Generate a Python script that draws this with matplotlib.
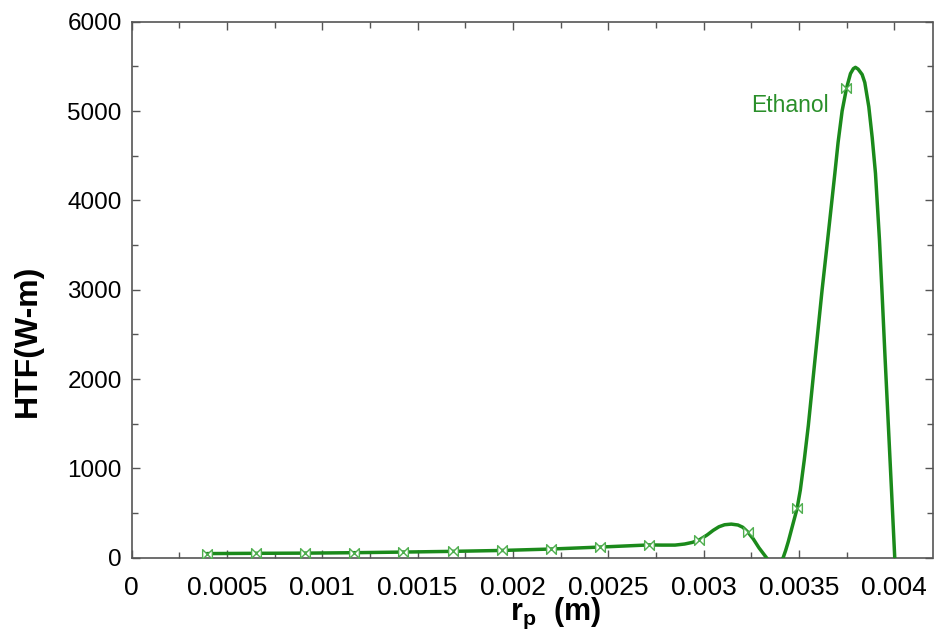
import matplotlib
matplotlib.use("Agg")
import matplotlib.pyplot as plt
from matplotlib.path import Path
from matplotlib.ticker import MultipleLocator, FuncFormatter

plt.rcParams['font.family'] = ['Liberation Sans', 'DejaVu Sans']
plt.rcParams['mathtext.fontset'] = 'custom'
plt.rcParams['mathtext.rm'] = 'Liberation Sans'
plt.rcParams['mathtext.bf'] = 'Liberation Sans:bold'

# Curve (r_p in m, HTF in W-m)
curve_x = [0.000395, 0.000653, 0.000910, 0.001169, 0.001426, 0.001685, 0.001942,
           0.002201, 0.002458, 0.002715, 0.00278, 0.00285, 0.0029, 0.00294, 0.002974,
           0.003018, 0.00305, 0.00308, 0.00311, 0.003145, 0.00318, 0.003205, 0.003233,
           0.00326, 0.00329, 0.003329, 0.00337, 0.0034, 0.003417, 0.00343, 0.003444,
           0.003465, 0.00349, 0.003507, 0.003528, 0.003549, 0.003583, 0.003621,
           0.00365, 0.003688, 0.003705, 0.003726, 0.003749, 0.00377, 0.003785,
           0.003796, 0.00381, 0.003831, 0.003845, 0.003866, 0.003884, 0.003901,
           0.003922, 0.003936, 0.003951, 0.003968, 0.003985, 0.004002, 0.00401]
curve_y = [45, 48, 50, 55, 62, 70, 80,
           96, 118, 142, 140, 140, 152, 170, 194,
           253, 305, 345, 368, 375, 365, 340, 283,
           210, 110, 0, -120, -60, 0, 80, 180,
           350, 550, 757, 1100, 1480, 2200, 2996,
           3555, 4303, 4650, 5000, 5255, 5420, 5475,
           5490, 5470, 5410, 5320, 5049, 4700, 4303,
           3555, 2940, 2250, 1504, 757, 0, -150]

# Symbol positions on the curve
marker_x = [0.000395, 0.000653, 0.000910, 0.001169, 0.001426, 0.001685, 0.001942,
            0.002201, 0.002458, 0.002715, 0.002974, 0.003233, 0.00349, 0.003749]
marker_y = [45, 48, 50, 55, 62, 70, 80, 96, 118, 142, 194, 283, 550, 5255]

series_label = "Ethanol"
x_label_txt = r"$\mathbf{r_p}$  (m)"
y_label_txt = "HTF(W-m)"

line_color = "#1b8a1b"
marker_color = "#4fae4f"
spine_color = "#555555"

bowtie = Path([(-1, -1), (-1, 1), (1, -1), (1, 1), (-1, -1)],
              [Path.MOVETO, Path.LINETO, Path.LINETO, Path.LINETO, Path.CLOSEPOLY])

W, H = 937, 637
fig = plt.figure(figsize=(W / 100, H / 100), dpi=100)
left, right, top, bottom = 131.5, 932.5, 21.8, 557.6
ax = fig.add_axes([left / W, (H - bottom) / H, (right - left) / W, (bottom - top) / H])

ax.plot(curve_x, curve_y, color=line_color, lw=2.5, zorder=3,
        solid_joinstyle='round', solid_capstyle='round')
ax.plot(marker_x, marker_y, ls='none', marker=bowtie, markersize=7,
        markerfacecolor='white', markeredgecolor=marker_color, markeredgewidth=1.0, zorder=4)

ax.set_xlim(0, 0.0042)
ax.set_ylim(0, 6000)

ax.xaxis.set_major_locator(MultipleLocator(0.0005))
ax.xaxis.set_minor_locator(MultipleLocator(0.00025))
ax.yaxis.set_major_locator(MultipleLocator(1000))
ax.yaxis.set_minor_locator(MultipleLocator(500))
ax.xaxis.set_major_formatter(FuncFormatter(lambda v, p: "0" if abs(v) < 1e-12 else f"{v:g}"))
ax.yaxis.set_major_formatter(FuncFormatter(lambda v, p: f"{v:.0f}"))

ax.tick_params(which='both', direction='in', top=True, right=True, colors=spine_color,
               labelcolor='black')
ax.tick_params(which='major', length=6, width=1)
ax.tick_params(which='minor', length=4, width=1)
ax.tick_params(axis='x', which='major', labelsize=19, pad=13)
ax.tick_params(axis='y', which='major', labelsize=17.5, pad=7)

for s in ax.spines.values():
    s.set_color(spine_color)
    s.set_linewidth(1.2)

ax.text(0.003654, 4990, series_label, color="#2a8f2a", fontsize=16.5,
        ha='right', va='baseline', zorder=5)

fig.text(555 / W, 1 - 613 / H, x_label_txt, fontsize=22, fontweight='bold',
         ha='center', va='center')
fig.text(27.5 / W, 1 - 341 / H, y_label_txt, fontsize=23, fontweight='bold',
         rotation=90, ha='center', va='center')

fig.savefig("out.png", dpi=100)
